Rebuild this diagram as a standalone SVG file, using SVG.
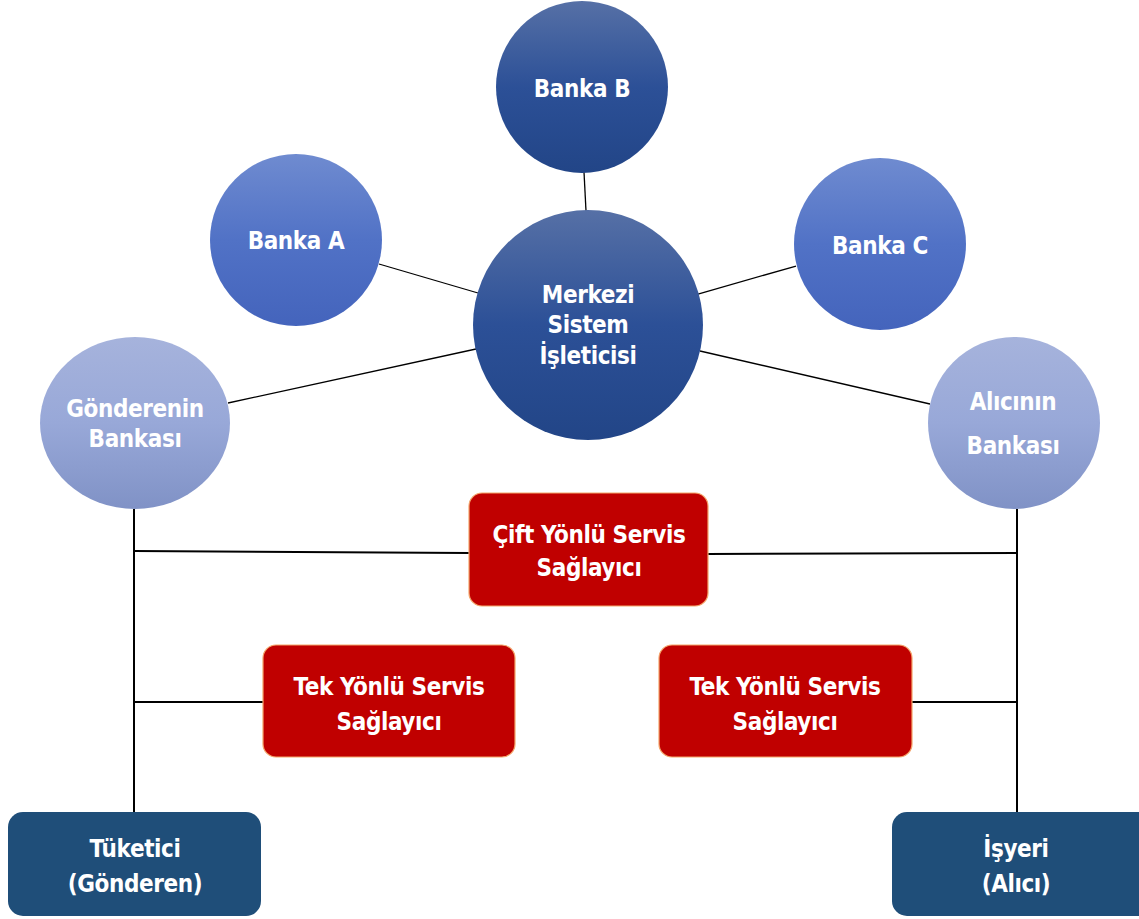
<svg xmlns="http://www.w3.org/2000/svg" width="1139" height="919" viewBox="0 0 1139 919">
<defs>
<linearGradient id="gDark" x1="0" y1="0" x2="0" y2="1"><stop offset="0" stop-color="#5670a6"/><stop offset="0.5" stop-color="#2c5097"/><stop offset="1" stop-color="#224587"/></linearGradient>
<linearGradient id="gMid" x1="0" y1="0" x2="0" y2="1"><stop offset="0" stop-color="#6f8bd0"/><stop offset="0.5" stop-color="#5172c6"/><stop offset="1" stop-color="#4464bc"/></linearGradient>
<linearGradient id="gLight" x1="0" y1="0" x2="0" y2="1"><stop offset="0" stop-color="#a6b3dc"/><stop offset="0.5" stop-color="#98a8d8"/><stop offset="1" stop-color="#8092c6"/></linearGradient>
<style>
text{font-family:"DejaVu Sans Condensed","DejaVu Sans",sans-serif;font-stretch:condensed;font-weight:bold;fill:#fff;text-anchor:middle;font-size:24px;letter-spacing:-0.4px}
.red{fill:#c00000;stroke:#f4a56a;stroke-width:1.2}
.navy{fill:#1f4e79}
.ln{stroke:#000;stroke-width:1.3;fill:none}
.ln2{stroke:#000;stroke-width:2;fill:none}
</style>
</defs>
<g id="connectors">
<line class="ln" x1="584" y1="172" x2="586" y2="211"/>
<line class="ln" x1="379" y1="264" x2="478" y2="293"/>
<line class="ln" x1="796" y1="266" x2="698" y2="294"/>
<line class="ln" x1="228" y1="403" x2="476" y2="349"/>
<line class="ln" x1="930" y1="404" x2="700" y2="351"/>
<line class="ln2" x1="134" y1="509" x2="134" y2="812"/>
<line class="ln2" x1="1017" y1="509" x2="1017" y2="812"/>
<line class="ln2" x1="134" y1="551" x2="469" y2="553"/>
<line class="ln2" x1="708" y1="554" x2="1017" y2="553"/>
<line class="ln2" x1="134" y1="702" x2="263" y2="702"/>
<line class="ln2" x1="912" y1="702" x2="1017" y2="702"/>
</g>
<g id="bankaB"><circle cx="582" cy="87" r="86" fill="url(#gDark)"/><text x="582" y="97">Banka B</text></g>
<g id="merkezi"><circle cx="588" cy="325" r="115" fill="url(#gDark)"/><text x="588" y="303">Merkezi</text><text x="588" y="333">Sistem</text><text x="588" y="364">İşleticisi</text></g>
<g id="bankaA"><circle cx="296" cy="240" r="86" fill="url(#gMid)"/><text x="296" y="249">Banka A</text></g>
<g id="bankaC"><circle cx="880" cy="244" r="86" fill="url(#gMid)"/><text x="880" y="254">Banka C</text></g>
<g id="gonderenBanka"><ellipse cx="135" cy="423" rx="95" ry="86" fill="url(#gLight)"/><text x="135" y="417">Gönderenin</text><text x="135" y="447">Bankası</text></g>
<g id="aliciBanka"><circle cx="1014" cy="423" r="86" fill="url(#gLight)"/><text x="1013" y="410">Alıcının</text><text x="1013" y="454">Bankası</text></g>
<g id="cift"><rect class="red" x="469" y="493" width="239" height="113" rx="13"/><text x="589" y="543">Çift Yönlü Servis</text><text x="589" y="576">Sağlayıcı</text></g>
<g id="tekSol"><rect class="red" x="263" y="645" width="252" height="112" rx="13"/><text x="389" y="695">Tek Yönlü Servis</text><text x="389" y="730">Sağlayıcı</text></g>
<g id="tekSag"><rect class="red" x="659" y="645" width="253" height="112" rx="13"/><text x="785" y="695">Tek Yönlü Servis</text><text x="785" y="730">Sağlayıcı</text></g>
<g id="tuketici"><rect class="navy" x="8" y="812" width="253" height="104" rx="15"/><text x="135" y="857">Tüketici</text><text x="135" y="892">(Gönderen)</text></g>
<g id="isyeri"><rect class="navy" x="892" y="812" width="260" height="104" rx="15"/><text x="1016" y="857">İşyeri</text><text x="1016" y="892">(Alıcı)</text></g>
</svg>
